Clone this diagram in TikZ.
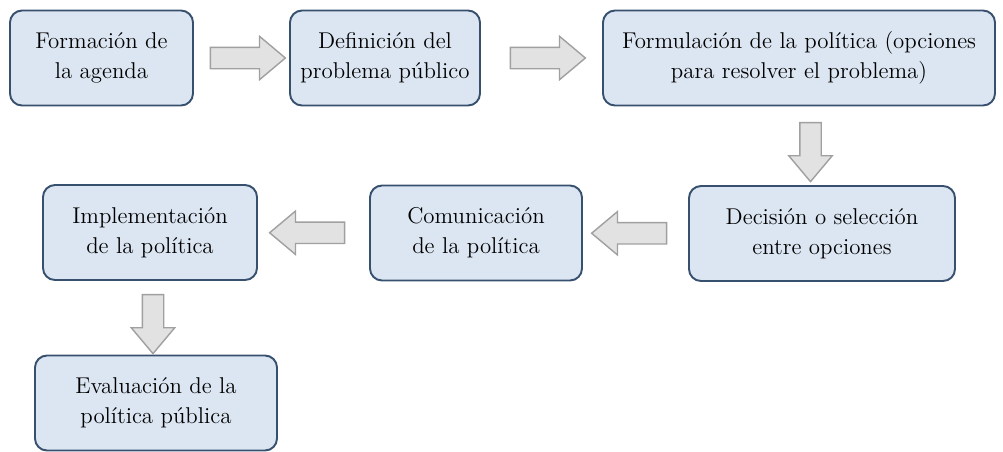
\documentclass[tikz,border=0pt]{standalone}
\usepackage{xcolor}
\usetikzlibrary{shapes.arrows,calc}

\definecolor{boxfill}{RGB}{220,230,242}
\definecolor{boxline}{RGB}{55,80,110}
\definecolor{arrfill}{RGB}{226,226,226}
\definecolor{arrline}{RGB}{160,160,160}

\tikzset{
  paso/.style={draw=boxline, line width=1.1pt, fill=boxfill, rounded corners=0.24cm,
    minimum height=1.9cm, inner sep=0pt, align=center,
    font=\fontsize{13}{17}\selectfont},
  flecha/.style={single arrow, draw=arrline, line width=0.8pt, fill=arrfill,
    inner sep=0.2cm, single arrow head extend=0.22cm,
    single arrow tip angle=80}
}

\begin{document}
\begin{tikzpicture}
  \useasboundingbox (0,0) rectangle (20.06,-9.02);
  % pasos del ciclo
  \foreach \n/\x/\y/\w/\t in {
      agenda/2.03/-1.16/3.66/{Formación de\\la agenda},
      problema/7.70/-1.16/3.80/{Definición del\\problema público},
      formulacion/15.98/-1.16/7.84/{Formulación de la política (opciones\\para resolver el problema)},
      decision/16.44/-4.67/5.32/{Decisión o selección\\entre opciones},
      comunicacion/9.52/-4.66/4.24/{Comunicación\\de la política},
      implementacion/3.00/-4.65/4.28/{Implementación\\de la política},
      evaluacion/3.12/-8.06/4.84/{Evaluación de la\\política pública}} {
    \node[paso, minimum width=\w cm] (\n) at (\x,\y) {\t};
  }
  % flechas entre pasos
  \node[flecha, minimum height=1.5cm] (f1) at ($(agenda.east)!0.5!(problema.west)$) {};
  \node[flecha, minimum height=1.5cm] (f2) at ($(problema.east)!0.5!(formulacion.west)$) {};
  \node[flecha, minimum height=1.18cm, shape border rotate=270] (f3) at ($(formulacion.south)!0.5!(decision.north)$) {};
  \node[flecha, minimum height=1.5cm, shape border rotate=180] (f4) at ($(decision.west)!0.5!(comunicacion.east)$) {};
  \node[flecha, minimum height=1.5cm, shape border rotate=180] (f5) at ($(comunicacion.west)!0.5!(implementacion.east)$) {};
  \node[flecha, minimum height=1.18cm, shape border rotate=270] (f6) at ($(implementacion.south)!0.5!(evaluacion.north)$) {};
\end{tikzpicture}
\end{document}
